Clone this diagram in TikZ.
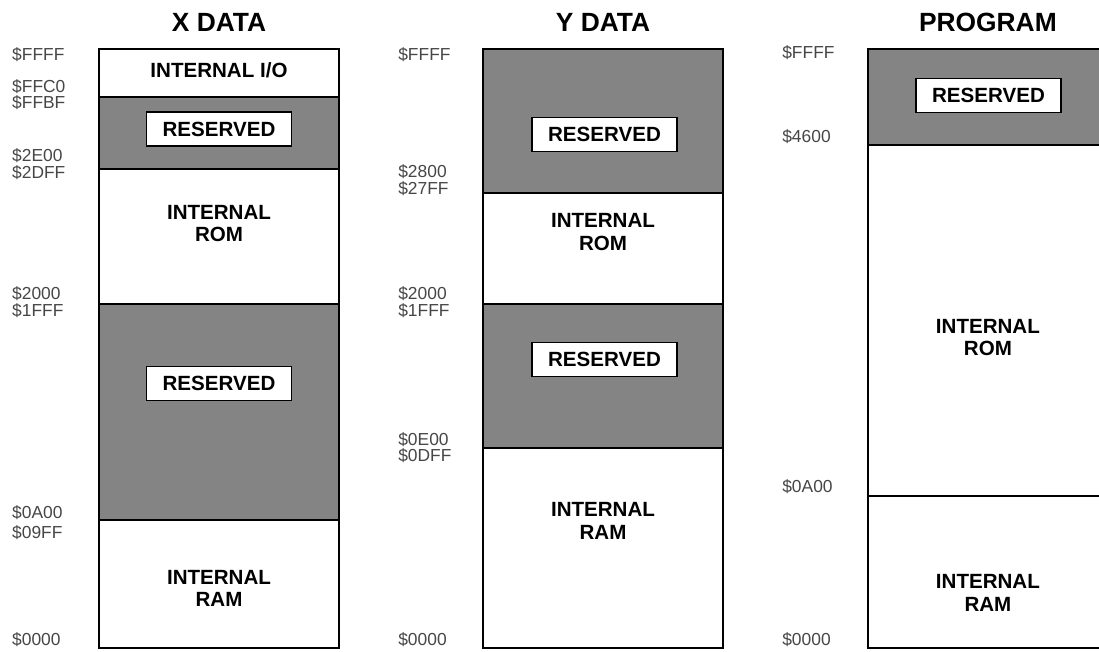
\documentclass[tikz,border=0pt]{standalone}
\usepackage{fontspec}
\setmainfont{Liberation Sans}
\usepackage{tikz}
\usetikzlibrary{positioning}
\usepackage{xcolor}
\definecolor{mmgray}{RGB}{132,132,132}
\definecolor{mmaddr}{RGB}{70,70,70}
\tikzstyle{region} = [draw=black, line width=1.6pt, fill=white]
\tikzstyle{reserved} = [draw=black, line width=1.6pt, fill=mmgray]
\tikzstyle{tag} = [rectangle, draw=black, fill=white, line width=1.4pt, minimum width=4.83cm, minimum height=1.13cm, text centered, font=\fontsize{19.5}{21}\selectfont\bfseries]
\tikzstyle{memtext} = [align=center, font=\fontsize{19.5}{21}\selectfont\bfseries]
\tikzstyle{heading} = [font=\fontsize{25}{25}\selectfont\bfseries]
\tikzstyle{addr} = [anchor=west, inner sep=0pt, text=mmaddr, font=\fontsize{16.5}{17}\selectfont]

\begin{document}
\begin{tikzpicture}
\useasboundingbox (0,0) rectangle (36.633,21.733);

% X data
\node[heading] (xtitle) at (7.3,20.97) {X DATA};
\draw[region] (3.3,18.5) rectangle (11.3,20.1);
\draw[reserved] (3.3,16.1) rectangle (11.3,18.5);
\draw[region] (3.3,11.6) rectangle (11.3,16.1);
\draw[reserved] (3.3,4.4) rectangle (11.3,11.6);
\draw[region] (3.3,0.133) rectangle (11.3,4.4);
\node[memtext] (xio) at (7.3,19.38) {INTERNAL I/O};
\node[tag] (xres1) at (7.3,17.43) {RESERVED};
\node[memtext] (xrom) at (7.3,14.27) {INTERNAL\\ROM};
\node[tag] (xres2) at (7.3,8.95) {RESERVED};
\node[memtext] (xram) at (7.3,2.13) {INTERNAL\\RAM};

% X addresses
\node[addr] (xa1) at (0.4,19.9) {\$FFFF};
\node[addr] (xa2) at (0.4,18.84) {\$FFC0};
\node[addr] (xa3) at (0.4,18.3) {\$FFBF};
\node[addr] (xa4) at (0.4,16.53) {\$2E00};
\node[addr] (xa5) at (0.4,15.99) {\$2DFF};
\node[addr] (xa6) at (0.4,11.93) {\$2000};
\node[addr] (xa7) at (0.4,11.39) {\$1FFF};
\node[addr] (xa8) at (0.4,4.65) {\$0A00};
\node[addr] (xa9) at (0.4,3.97) {\$09FF};
\node[addr] (xa10) at (0.4,0.4) {\$0000};

% Y data
\node[heading] (ytitle) at (20.1,20.97) {Y DATA};
\draw[reserved] (16.1,15.3) rectangle (24.1,20.1);
\draw[region] (16.1,11.6) rectangle (24.1,15.3);
\draw[reserved] (16.1,6.8) rectangle (24.1,11.6);
\draw[region] (16.1,0.133) rectangle (24.1,6.8);
\node[tag] (yres1) at (20.15,17.25) {RESERVED};
\node[memtext] (yrom) at (20.1,14.0) {INTERNAL\\ROM};
\node[tag] (yres2) at (20.15,9.75) {RESERVED};
\node[memtext] (yram) at (20.1,4.37) {INTERNAL\\RAM};

% Y addresses
\node[addr] (ya1) at (13.27,19.9) {\$FFFF};
\node[addr] (ya2) at (13.27,16.0) {\$2800};
\node[addr] (ya3) at (13.27,15.46) {\$27FF};
\node[addr] (ya4) at (13.27,11.93) {\$2000};
\node[addr] (ya5) at (13.27,11.39) {\$1FFF};
\node[addr] (ya6) at (13.27,7.09) {\$0E00};
\node[addr] (ya7) at (13.27,6.55) {\$0DFF};
\node[addr] (ya8) at (13.27,0.4) {\$0000};

% Program
\node[heading] (ptitle) at (32.93,20.97) {PROGRAM};
\draw[reserved] (28.93,16.9) rectangle (36.93,20.1);
\draw[region] (28.93,5.2) rectangle (36.93,16.9);
\draw[region] (28.93,0.133) rectangle (36.93,5.2);
\node[tag] (pres) at (32.95,18.55) {RESERVED};
\node[memtext] (prom) at (32.93,10.47) {INTERNAL\\ROM};
\node[memtext] (pram) at (32.93,1.97) {INTERNAL\\RAM};

% Program addresses
\node[addr] (pa1) at (26.07,19.97) {\$FFFF};
\node[addr] (pa2) at (26.07,17.17) {\$4600};
\node[addr] (pa3) at (26.07,5.5) {\$0A00};
\node[addr] (pa4) at (26.07,0.4) {\$0000};
\end{tikzpicture}
\end{document}
